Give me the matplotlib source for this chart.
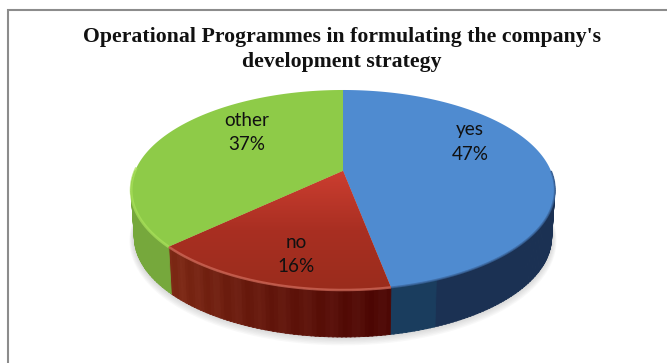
import numpy as np
import matplotlib
matplotlib.use("Agg")
import matplotlib.pyplot as plt
from matplotlib.colors import LinearSegmentedColormap, to_rgb
from matplotlib.patches import Polygon

title_lines = ["Operational Programmes in formulating the company's", "development strategy"]
labels = ["yes", "no", "other"]
shares = [47, 16, 37]
label_pos = [(470, 142), (296, 254), (247, 133)]

top_colors = ["#4f8bd0", "#b8382a", "#8ecb48"]
side_colors = ["#1b3153", "#5a1410", "#76a83c"]

W, H = 667, 363
CX, CY = 343, 171
RX, RY = 208, 96.4
TILT = 0.19
DEPTH = 47


# perspective projection of the unit disc onto the page
def project(u, v, drop=0.0):
    d = 1 + TILT * v
    shrink = 1 - 0.015 * drop / DEPTH
    return CX + shrink * RX * u / d, CY - RY * v / d + drop


def arc(a0, a1, n=200):
    t = np.radians(np.linspace(a0, a1, n))
    return np.sin(t), np.cos(t)


fig = plt.figure(figsize=(W / 100, H / 100), dpi=100)
ax = fig.add_axes([0, 0, 1, 1])
ax.set_xlim(0, W)
ax.set_ylim(H, 0)
ax.axis("off")

# frame runs off the right and bottom edges
ax.plot([8, 8, W], [H, 10, 10], color="#8c8c8c", lw=1.5, solid_joinstyle="miter")

# soft shadow under the disc
u, v = arc(90, 270)
x, y = project(u, v, DEPTH)
for i in range(6):
    ax.plot(x, y + i * 0.7, color="#808080", alpha=0.05, lw=2 + i, zorder=1)

bounds = np.cumsum([0] + shares) * 3.6

# side wall, built from short strips so the shading can vary along the rim
for i, c in enumerate(side_colors):
    a0, a1 = bounds[i], bounds[i + 1]
    if i == 2:
        a1 = 270
    start = max(a0, 90)
    edges = np.linspace(start, a1, int(a1 - start) + 2)
    base = np.array(to_rgb(c))
    for j in range(len(edges) - 1):
        u, v = arc(edges[j], edges[j + 1] + 0.3, 6)
        xt, yt = project(u, v)
        xb, yb = project(u, v, DEPTH)
        f = (edges[j] - start) / (a1 - start)
        col = base
        if labels[i] == "no":
            # darkest at the front right, with faint vertical bands
            col = np.array([0.30, 0.03, 0.02]) + f * np.array([0.20, 0.14, 0.07])
            col = col + 0.015 * np.sin(j * 1.1)
        elif labels[i] == "yes" and edges[j] > 158:
            col = np.array([0.10, 0.24, 0.37])
        col = np.clip(col, 0, 1)
        ax.add_patch(Polygon(np.r_[np.c_[xt, yt], np.c_[xb, yb][::-1]], closed=True,
                             fc=col, ec=col, lw=0.6, zorder=2))

# top face
for i, c in enumerate(top_colors):
    u, v = arc(bounds[i], bounds[i + 1])
    x, y = project(u, v)
    x = np.r_[CX, x]
    y = np.r_[CY, y]
    wedge = Polygon(np.c_[x, y], closed=True, fc=c, ec="none", zorder=3)
    ax.add_patch(wedge)
    if labels[i] == "no":
        # the red slice darkens towards the rim
        grad = np.linspace(0, 1, 128).reshape(-1, 1)
        cmap = LinearSegmentedColormap.from_list("r", ["#cc3e30", "#a92f22", "#9a2c1c"])
        im = ax.imshow(grad, extent=[x.min(), x.max(), y.max(), y.min()], cmap=cmap,
                       aspect="auto", zorder=3.1)
        im.set_clip_path(wedge)

# bevel along the front rim
rim = {"yes": ("#3a659c", 1.4, 90), "no": ("#cf6a5a", 1.8, None), "other": ("#a8e05a", 2.0, None)}
for i, name in enumerate(labels):
    color, width, first = rim[name]
    a0 = bounds[i] if first is None else first
    a1 = min(bounds[i + 1], 272)
    u, v = arc(a0, a1)
    x, y = project(u, v)
    ax.plot(x, y, color=color, lw=width, alpha=0.75, zorder=4, solid_capstyle="butt")

for i, name in enumerate(labels):
    ax.text(label_pos[i][0], label_pos[i][1], f"{name}\n{shares[i]}%", ha="center", va="center",
            fontsize=13.6, family="Lato", color="#111111", linespacing=1.5, zorder=5)

for i, line in enumerate(title_lines):
    ax.text(342, 37 + i * 25, line, ha="center", va="center", fontsize=15.7,
            family="Liberation Serif", fontweight="bold", color="#111111")

fig.savefig("out.png", dpi=100)
